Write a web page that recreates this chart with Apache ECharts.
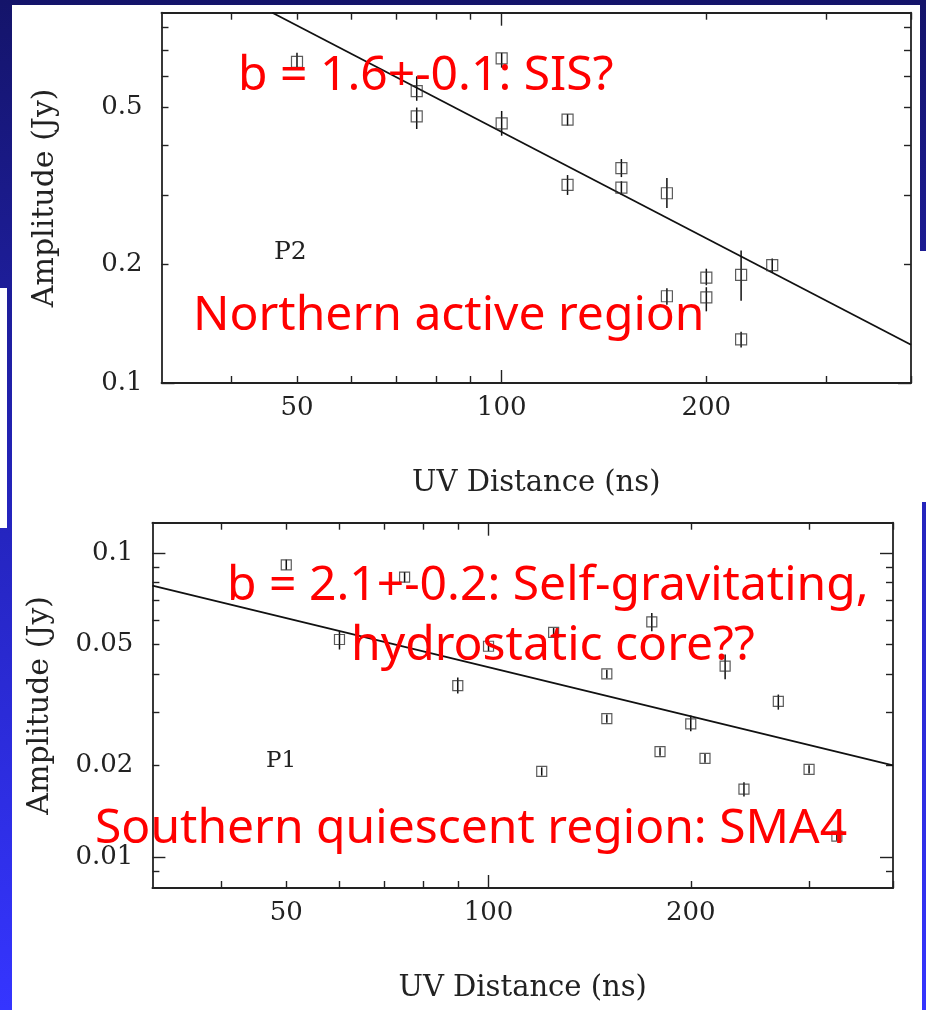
<!DOCTYPE html>
<html>
<head>
<meta charset="utf-8">
<script src="https://cdn.jsdelivr.net/npm/echarts@6/dist/echarts.min.js"></script>
<style>
  html, body { margin: 0; padding: 0; }
  body {
    width: 926px; height: 1010px; position: relative; overflow: hidden;
    background: linear-gradient(180deg, #14146a 0%, #2424bc 50%, #3535ff 100%);
  }
  .panel { position: absolute; background: #fff; }
  #chart { position: absolute; left: 0; top: 0; width: 926px; height: 1010px; }
</style>
</head>
<body>
<div class="panel" style="left:12px;top:5px;width:908px;height:1005px"></div>
<div class="panel" style="left:920px;top:251px;width:6px;height:251px"></div>
<div class="panel" style="left:920px;top:502px;width:2px;height:508px"></div>
<div class="panel" style="left:0;top:288px;width:7px;height:240px"></div>
<div id="chart"></div>
<script>
// P2 (上图): UV 距离 / 振幅
const p2UV = [50, 75, 75, 100, 100, 125, 125, 150, 150, 175, 175, 200, 200, 225, 225, 250]
const p2Amp = [0.653, 0.55, 0.475, 0.666, 0.456, 0.466, 0.318, 0.351, 0.313, 0.303, 0.166, 0.185, 0.165, 0.188, 0.129, 0.199]
const p2Lo = [0.627, 0.52, 0.441, 0.631, 0.424, 0.45, 0.30, 0.333, 0.30, 0.278, 0.158, 0.177, 0.152, 0.1616, 0.123, 0.191]
const p2Hi = [0.688, 0.60, 0.50, 0.688, 0.49, 0.481, 0.337, 0.370, 0.325, 0.331, 0.174, 0.195, 0.175, 0.217, 0.135, 0.207]
const p2FitUV = [46, 400]
const p2FitAmp = [0.87, 0.125]

// P1 (下图)
const p1UV = [50, 60, 75, 90, 100, 120, 125, 150, 150, 175, 180, 200, 210, 225, 240, 270, 300, 330]
const p1Amp = [0.0913, 0.0519, 0.0832, 0.0366, 0.0493, 0.0191, 0.0548, 0.040, 0.0285, 0.0593, 0.0222, 0.0274, 0.0211, 0.0424, 0.0167, 0.0325, 0.0194, 0.0117]
const p1Lo = [0.088, 0.0481, 0.0800, 0.0345, 0.0475, 0.0185, 0.0530, 0.0387, 0.0276, 0.0552, 0.0215, 0.0259, 0.0204, 0.0384, 0.0158, 0.0305, 0.0188, 0.0113]
const p1Hi = [0.095, 0.0552, 0.0865, 0.0389, 0.0511, 0.0197, 0.0566, 0.0413, 0.0294, 0.0634, 0.0229, 0.0292, 0.0218, 0.0463, 0.0176, 0.0342, 0.0200, 0.0121]
const p1FitUV = [31.6, 400]
const p1FitAmp = [0.078, 0.020]

// 坐标范围与刻度
const uvRange = [31.6, 400]
const uvLabels = [50, 100, 200]
const uvMajor = [100]
const uvMinor = [40, 50, 60, 70, 80, 90, 200, 300, 400]
const p2AmpRange = [0.1, 0.87]
const p2AmpLabels = [0.1, 0.2, 0.5]
const p2AmpMajor = [0.1]
const p2AmpMinor = [0.2, 0.3, 0.4, 0.5, 0.6, 0.7, 0.8]
const p1AmpRange = [0.0079, 0.1257]
const p1AmpLabels = [0.01, 0.02, 0.05, 0.1]
const p1AmpMajor = [0.01, 0.1]
const p1AmpMinor = [0.009, 0.02, 0.03, 0.04, 0.05, 0.06, 0.07, 0.08, 0.09]

const lg = v => Math.log10(v)
const fmt = v => String(+Math.pow(10, v).toPrecision(3))
const serif = 'DejaVu Serif'
const ink = '#222'

// 一个方向四根轴: 主轴(线+主刻度+标签), 次刻度, 对边主刻度, 对边次刻度
function makeAxes (dim, gridIndex, range, labels, major, minor, name, nameGap, nameSize) {
  const sides = dim === 'x' ? ['bottom', 'top'] : ['left', 'right']
  const base = { type: 'value', gridIndex, min: lg(range[0]), max: lg(range[1]), splitLine: { show: false } }
  const axes = []
  sides.forEach((side, i) => {
    axes.push(Object.assign({}, base, {
      position: side,
      axisLine: { show: true, onZero: false, lineStyle: { color: ink, width: 1.8 } },
      axisTick: { show: true, inside: true, length: 13, customValues: major.map(lg), lineStyle: { color: ink, width: 1.4 } },
      axisLabel: i === 0
        ? { show: true, customValues: labels.map(lg), formatter: fmt, fontFamily: serif, fontSize: 26, color: ink, margin: dim === 'x' ? 12 : 19 }
        : { show: false },
      name: i === 0 ? name : '',
      nameLocation: 'middle',
      nameGap,
      nameRotate: dim === 'y' ? 90 : 0,
      nameTextStyle: { fontFamily: serif, fontSize: nameSize, color: ink }
    }))
    axes.push(Object.assign({}, base, {
      position: side,
      axisLine: { show: false, onZero: false },
      axisTick: { show: true, inside: true, length: 7, customValues: minor.map(lg), lineStyle: { color: ink, width: 1.4 } },
      axisLabel: { show: false }
    }))
  })
  return axes
}

function errorSeries (axisIndex, uv, lo, hi) {
  return {
    type: 'custom',
    xAxisIndex: axisIndex,
    yAxisIndex: axisIndex,
    z: 3,
    data: uv.map((x, i) => [lg(x), lg(lo[i]), lg(hi[i])]),
    encode: { x: 0, y: [1, 2] },
    renderItem: (params, api) => {
      const a = api.coord([api.value(0), api.value(1)])
      const b = api.coord([api.value(0), api.value(2)])
      return {
        type: 'line',
        shape: { x1: a[0], y1: a[1], x2: b[0], y2: b[1] },
        style: { stroke: '#111', lineWidth: 1.5 }
      }
    }
  }
}

function pointSeries (axisIndex, uv, amp, size) {
  return {
    type: 'scatter',
    xAxisIndex: axisIndex,
    yAxisIndex: axisIndex,
    z: 4,
    symbol: 'rect',
    symbolSize: size,
    itemStyle: { color: 'rgba(0,0,0,0)', borderColor: '#333', borderWidth: 1.2 },
    data: uv.map((x, i) => [lg(x), lg(amp[i])])
  }
}

function fitSeries (axisIndex, uv, amp) {
  return {
    type: 'line',
    xAxisIndex: axisIndex,
    yAxisIndex: axisIndex,
    z: 2,
    showSymbol: false,
    lineStyle: { color: '#111', width: 1.8 },
    data: uv.map((x, i) => [lg(x), lg(amp[i])])
  }
}

function note (text, x, y, size, color, family) {
  return {
    type: 'text', x, y, z: 100,
    style: {
      text,
      fill: color,
      font: size + 'px ' + family,
      textAlign: 'left', align: 'left',
      textVerticalAlign: 'middle', verticalAlign: 'middle'
    }
  }
}

const red = '#ff0000'
const comic = '"Comic Sans MS", "Noto Sans", sans-serif'

const chart = echarts.init(document.getElementById('chart'))
chart.setOption({
  animation: false,
  grid: [
    { left: 161.5, top: 12.7, width: 749.5, height: 370.3 },
    { left: 152.4, top: 522.7, width: 740.6, height: 365.3 }
  ],
  xAxis: [
    ...makeAxes('x', 0, uvRange, uvLabels, uvMajor, uvMinor, 'UV Distance (ns)', 86, 29),
    ...makeAxes('x', 1, uvRange, uvLabels, uvMajor, uvMinor, 'UV Distance (ns)', 86, 29)
  ],
  yAxis: [
    ...makeAxes('y', 0, p2AmpRange, p2AmpLabels, p2AmpMajor, p2AmpMinor, 'Amplitude (Jy)', 101, 30),
    ...makeAxes('y', 1, p1AmpRange, p1AmpLabels, p1AmpMajor, p1AmpMinor, 'Amplitude (Jy)', 97, 30)
  ],
  series: [
    fitSeries(0, p2FitUV, p2FitAmp),
    errorSeries(0, p2UV, p2Lo, p2Hi),
    pointSeries(0, p2UV, p2Amp, 11),
    fitSeries(4, p1FitUV, p1FitAmp),
    errorSeries(4, p1UV, p1Lo, p1Hi),
    pointSeries(4, p1UV, p1Amp, 10)
  ],
  graphic: [
    note('P2', 274, 252, 25, ink, serif),
    note('P1', 266, 761, 23, ink, serif),
    note('b = 1.6+-0.1: SIS?', 238, 76, 48, red, comic),
    note('Northern active region', 193, 316, 48, red, comic),
    note('b = 2.1+-0.2: Self-gravitating,', 227, 586, 48, red, comic),
    note('hydrostatic core??', 351, 646, 48, red, comic),
    note('Southern quiescent region: SMA4', 95, 829, 48, red, comic)
  ]
})
</script>
</body>
</html>
